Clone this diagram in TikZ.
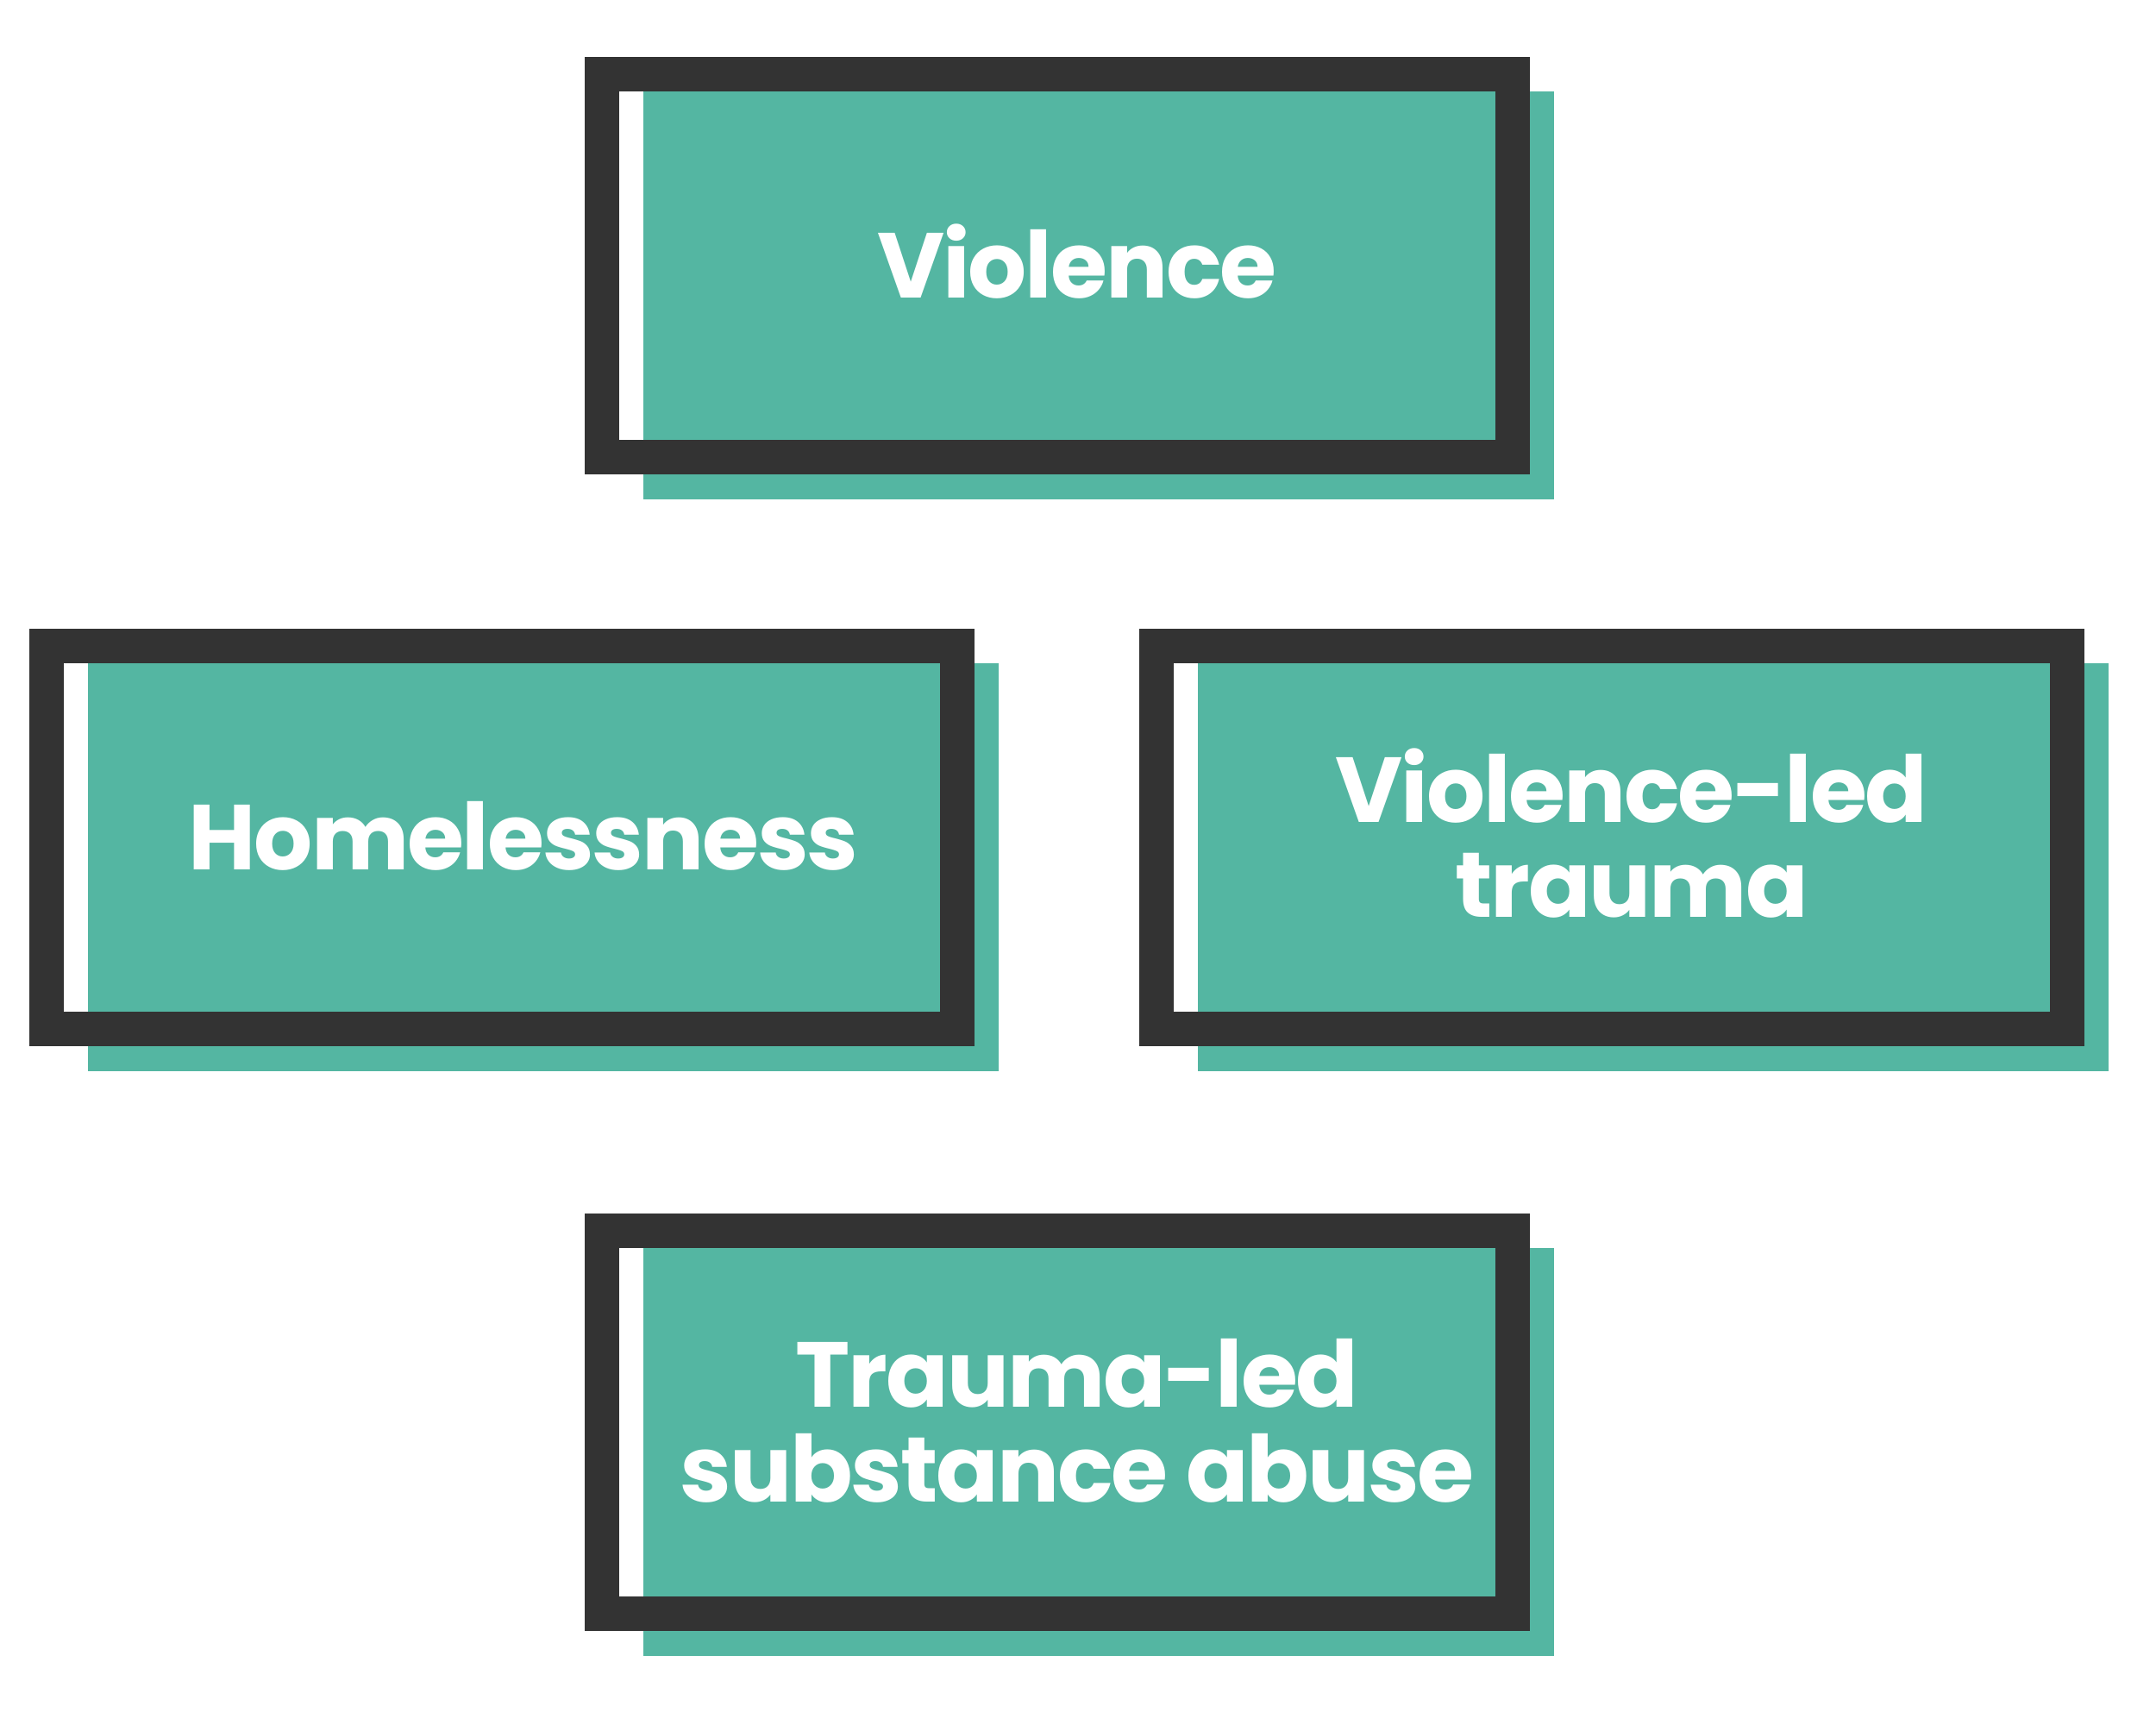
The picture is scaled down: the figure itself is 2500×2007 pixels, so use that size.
\documentclass[tikz,border=0pt]{standalone}
\usepackage{fontspec}
\setmainfont{Poppins}[LetterSpace=-2]
\definecolor{teal1}{HTML}{54B6A2}
\definecolor{dark1}{HTML}{333333}
\tikzset{
  shadowbox/.style={fill=teal1, draw=none},
  framebox/.style={draw=dark1, line width=40pt},
  lbl/.style={anchor=base, text=white, inner sep=0pt, font=\fontsize{107}{110}\selectfont\bfseries}
}
\newcommand{\mybox}[3]{%
  \fill[shadowbox] (#2+68,#3+40) rectangle (#2+1124,#3+513);
  \node[framebox, minimum width=1056pt, minimum height=444pt, inner sep=0pt] (#1) at (#2+548,#3+242) {};
}
\begin{document}
\begin{tikzpicture}[x=1pt,y=-1pt]
\useasboundingbox (0,0) rectangle (2500,2007);
\mybox{b1}{678}{66}
\mybox{b2}{34}{729}
\mybox{b3}{1321}{729}
\mybox{b4}{678}{1407}
\node[lbl] (t1) at (1249,345.5) {Violence};
\node[lbl] (t2) at (607,1008.5) {Homelessness};
\node[lbl] (t3a) at (1892,953) {Violence-led};
\node[lbl] (t3b) at (1892,1063) {trauma};
\node[lbl] (t4a) at (1249,1631) {Trauma-led};
\node[lbl] (t4b) at (1249,1741) {substance abuse};
\end{tikzpicture}
\end{document}
